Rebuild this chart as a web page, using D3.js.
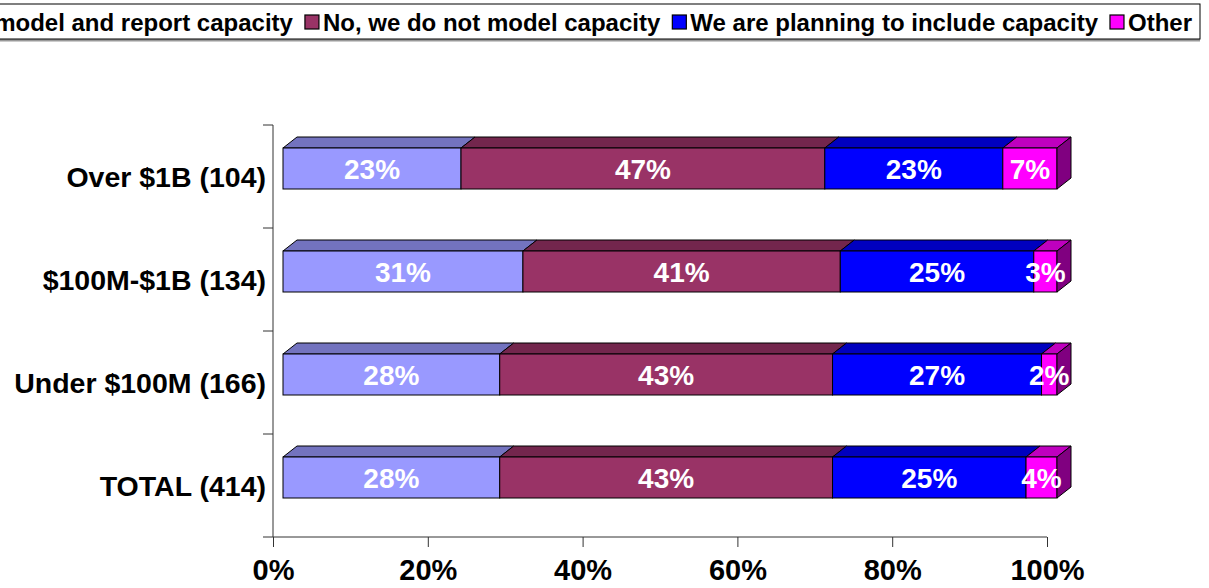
<!DOCTYPE html>
<html>
<head>
<meta charset="utf-8">
<script src="https://cdn.jsdelivr.net/npm/d3@7"></script>
<style>
  html, body { margin: 0; padding: 0; background: #fff; }
  svg { display: block; font-family: "Liberation Sans", Arial, sans-serif; font-weight: bold; }
</style>
</head>
<body>
<svg id="chart" width="1209" height="588"></svg>
<script>
// Survey responses by company revenue band (percent of respondents)
const categories = ["Over $1B (104)", "$100M-$1B (134)", "Under $100M (166)", "TOTAL (414)"];
const seriesNames = [
  "Yes, we model and report capacity",
  "No, we do not model capacity",
  "We are planning to include capacity",
  "Other"
];
const yesValues      = [23, 31, 28, 28];
const noValues       = [47, 41, 43, 43];
const planningValues = [23, 25, 27, 25];
const otherValues    = [7, 3, 2, 4];
const xTicks = [0, 20, 40, 60, 80, 100];

// front / top / side shades per series (3-D bar look)
const fronts = ["#9999FF", "#993366", "#0000FF", "#FF00FF"];
const tops   = ["#7373BF", "#73264D", "#0000BF", "#BF00BF"];
const sides  = ["#4D4D80", "#4D1A33", "#000080", "#800080"];

const svg = d3.select("#chart");
const seriesValues = [yesValues, noValues, planningValues, otherValues];

const rows = categories.map((c, i) => {
  let acc = 0;
  return {
    cat: c,
    segs: seriesValues.map((vals, s) => {
      const seg = { s, v: vals[i], x0: acc, x1: acc + vals[i] };
      acc += vals[i];
      return seg;
    })
  };
});

const x = d3.scaleLinear().domain([0, 100]).range([273, 1047]);
const y = d3.scaleBand().domain(categories).range([125, 537]);

// depth of the 3-D box
const frontDx = 10, frontDy = -8;
const depthX = 14, depthY = -11;
const barH = 41;

// axes
const axisColor = "#333";
const gx = svg.append("g").attr("transform", "translate(0,537)")
  .call(d3.axisBottom(x).tickValues(xTicks).tickSize(10).tickFormat(d => d + "%"));
gx.select(".domain").attr("stroke", axisColor).attr("d", `M${x(0)},0H${x(100)}`);
gx.selectAll(".tick line").attr("stroke", axisColor);
gx.selectAll(".tick text")
  .attr("fill", "#000").attr("font-size", 29).attr("font-family", "Liberation Sans, Arial, sans-serif")
  .attr("font-weight", "bold").attr("y", 22).attr("dy", "0.71em");

const gy = svg.append("g").attr("transform", `translate(${x(0)},0)`)
  .call(d3.axisLeft(y).tickSize(0).tickFormat(""));
gy.select(".domain").attr("stroke", axisColor).attr("d", "M0,125V537");
// tick marks at band boundaries
const boundaries = d3.range(categories.length + 1).map(i => 125 + i * y.step());
gy.selectAll(".bline").data(boundaries).join("line")
  .attr("x1", -10).attr("x2", 0).attr("y1", d => d).attr("y2", d => d)
  .attr("stroke", axisColor);

// category labels
svg.append("g").selectAll("text").data(categories).join("text")
  .attr("x", 266)
  .attr("y", d => y(d) + y.bandwidth() / 2 + 10)
  .attr("text-anchor", "end")
  .attr("font-size", 28.5)
  .attr("fill", "#000")
  .text(d => d);

// bars
const bars = svg.append("g");
rows.forEach(row => {
  const cy = y(row.cat) + y.bandwidth() / 2 + frontDy;
  const top = cy - barH / 2, bottom = cy + barH / 2;
  const g = bars.append("g");
  row.segs.forEach(seg => {
    const xa = x(seg.x0) + frontDx, xb = x(seg.x1) + frontDx;
    // top face
    g.append("path")
      .attr("d", `M${xa},${top}L${xa + depthX},${top + depthY}L${xb + depthX},${top + depthY}L${xb},${top}Z`)
      .attr("fill", tops[seg.s]).attr("stroke", "#000").attr("stroke-width", 1).attr("stroke-linejoin", "round");
  });
  row.segs.forEach(seg => {
    const xa = x(seg.x0) + frontDx, xb = x(seg.x1) + frontDx;
    g.append("rect")
      .attr("x", xa).attr("y", top).attr("width", xb - xa).attr("height", barH)
      .attr("fill", fronts[seg.s]).attr("stroke", "#000").attr("stroke-width", 1);
  });
  // right side of the last segment
  const last = row.segs[row.segs.length - 1];
  const xe = x(last.x1) + frontDx;
  g.append("path")
    .attr("d", `M${xe},${top}L${xe + depthX},${top + depthY}L${xe + depthX},${bottom + depthY}L${xe},${bottom}Z`)
    .attr("fill", sides[last.s]).attr("stroke", "#000").attr("stroke-width", 1).attr("stroke-linejoin", "round");
  // value labels
  row.segs.forEach(seg => {
    const xm = (x(seg.x0) + x(seg.x1)) / 2 + frontDx;
    g.append("text")
      .attr("x", xm).attr("y", cy + 10)
      .attr("text-anchor", "middle")
      .attr("font-size", 28)
      .attr("fill", "#fff")
      .text(seg.v + "%");
  });
});

// legend (laid out right to left from its right edge; wider than the view)
const legend = svg.append("g");
const legRight = 1200, legTop = 4, legBottom = 40;
const fs = 24;
const items = legend.append("g");
let cursor = legRight - 8;
for (let i = seriesNames.length - 1; i >= 0; i--) {
  const t = items.append("text").attr("font-size", fs).attr("fill", "#000")
    .attr("y", 31).text(seriesNames[i]);
  const w = t.node().getComputedTextLength();
  t.attr("x", cursor - w);
  const sx = cursor - w - 4 - 14;
  items.append("rect").attr("x", sx).attr("y", 15).attr("width", 14).attr("height", 14)
    .attr("fill", fronts[i]).attr("stroke", "#000").attr("stroke-width", 1.2);
  cursor = sx - 12;
}
legend.insert("rect", ":first-child")
  .attr("x", cursor - 10).attr("y", legTop + 1.5)
  .attr("width", legRight - cursor + 10).attr("height", legBottom - legTop)
  .attr("fill", "#999");
legend.insert("rect", ":nth-child(2)")
  .attr("x", cursor - 10).attr("y", legTop)
  .attr("width", legRight - cursor + 10).attr("height", legBottom - legTop - 1)
  .attr("fill", "#fff").attr("stroke", "#000").attr("stroke-width", 1);
</script>
</body>
</html>
